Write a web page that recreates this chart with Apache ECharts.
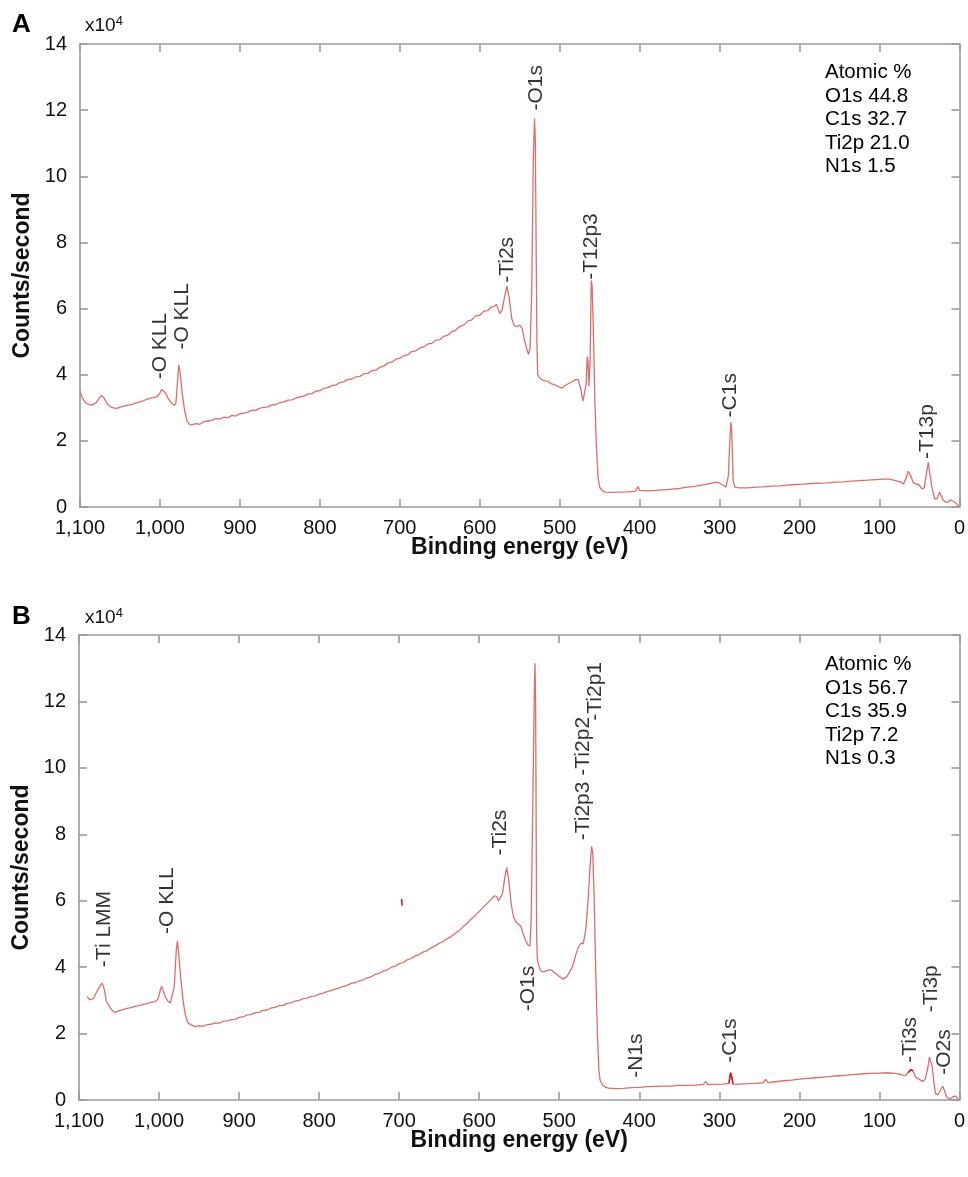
<!DOCTYPE html>
<html>
<head>
<meta charset="utf-8">
<script src="https://cdn.jsdelivr.net/npm/echarts@6/dist/echarts.min.js"></script>
<style>
html,body{margin:0;padding:0;background:#fff;}
#chart{width:968px;height:1177px;}
</style>
</head>
<body>
<div id="chart"></div>
<script>
// ---------- Panel A spectrum (binding energy eV, counts/second x10^4) ----------
const energyA = [1100,1097,1093,1089,1085,1080,1076,1073,1070,1066,1062,1058,1054,1050,1045,1040,1035,1030,1025,1020,1015,1010,1005,1001,998,996,993,990,986,982,980,978,976.5,975,972,969,966,963,960,
955,950,945,940,935,930,925,920,915,910,905,900,895,890,885,880,875,870,865,860,855,850,845,840,835,830,825,820,815,810,805,800,795,790,785,780,775,770,765,760,755,750,745,740,735,730,725,720,715,710,705,700,695,690,685,680,675,670,665,660,655,650,645,640,635,630,625,620,615,610,605,600,595,590,585,582,579,
575,572,569,566,563,560,557,554,550,547,544,541,539,537,535,533,531.5,530.5,529.5,528.5,527.5,525,520,515,510,505,500,497,494,490,485,480,477,474,471,469,467,465.5,464.5,463.5,462,460.5,459.5,458,456,454,452,450,447,443,435,425,415,405,402,400,390,380,370,360,350,340,330,320,310,304,300,295,292,289,287,286,285,284,283,281,275,265,255,245,235,225,215,205,195,185,175,165,155,145,135,125,115,105,95,88,80,74,70,67,64,61,58,55,51,47,44,41,39,37,34,31,28,25,23,20,17,14,11,9,6,3,1];
const countsA = [3.50,3.30,3.15,3.10,3.08,3.15,3.30,3.37,3.30,3.12,3.03,3.00,2.98,3.02,3.05,3.08,3.10,3.15,3.18,3.22,3.27,3.30,3.33,3.40,3.55,3.58,3.45,3.30,3.15,3.07,3.15,3.80,4.30,4.10,3.40,2.90,2.60,2.50,2.48,
2.52,2.50,2.58,2.60,2.62,2.68,2.66,2.72,2.70,2.77,2.75,2.82,2.84,2.87,2.93,2.92,2.99,3.01,3.03,3.09,3.10,3.16,3.17,3.23,3.24,3.29,3.33,3.35,3.42,3.43,3.50,3.52,3.59,3.61,3.67,3.69,3.76,3.79,3.86,3.87,3.94,3.95,4.03,4.04,4.12,4.14,4.22,4.26,4.35,4.38,4.47,4.50,4.58,4.60,4.70,4.72,4.81,4.84,4.93,4.95,5.04,5.06,5.16,5.20,5.30,5.35,5.46,5.50,5.62,5.66,5.78,5.80,5.92,5.94,6.05,6.06,6.12,
5.85,5.95,6.35,6.68,6.30,5.70,5.50,5.45,5.50,5.40,5.05,4.75,4.62,4.80,6.50,10.50,11.75,11.10,8.00,5.00,4.00,3.90,3.82,3.80,3.72,3.68,3.62,3.60,3.66,3.72,3.78,3.85,3.85,3.60,3.20,3.20,3.70,4.55,4.40,3.65,4.40,6.85,6.70,5.50,3.20,1.80,0.90,0.60,0.50,0.45,0.44,0.45,0.46,0.48,0.62,0.50,0.49,0.50,0.52,0.54,0.56,0.60,0.63,0.67,0.72,0.75,0.72,0.65,0.60,0.95,2.10,2.56,2.40,1.60,0.80,0.60,0.58,0.58,0.60,0.61,0.63,0.64,0.66,0.68,0.69,0.71,0.72,0.73,0.75,0.76,0.78,0.80,0.81,0.83,0.84,0.84,0.80,0.76,0.70,0.85,1.08,0.95,0.75,0.70,0.68,0.55,0.58,1.05,1.35,1.00,0.55,0.25,0.25,0.45,0.40,0.20,0.15,0.15,0.22,0.24,0.15,0.08,0.03];

// ---------- Panel B spectrum ----------
const energyB = [1090,1087,1085,1082,1078,1074,1071,1069.5,1068,1066,1064,1061,1058,1055,1050,1045,1040,1035,1030,1025,1020,1015,1010,1005,1001,998,996.5,995,992,989,986,984,981,978.5,977,976,973,970,967,964,960,955,
950,945,940,935,930,925,920,915,910,905,900,895,890,885,880,875,870,865,860,855,850,845,840,835,830,825,820,815,810,805,800,795,790,785,780,775,770,765,760,755,750,745,740,735,730,725,720,715,710,705,700,695,690,685,680,675,670,665,660,655,650,645,640,635,630,625,620,615,610,605,600,595,590,585,581,578,
576,574,571,568,565.5,563,560,557,554,551,548,545,542,539,536.5,535,533,531,530.3,529.5,528.8,528.2,527.5,525,523,519,515,511,508,504,500,495,491,487,483,479,476,473,470,467,464,461,459.5,458,456.5,455,453.5,452,450.5,449,446,442,438,430,420,410,400,390,380,370,360,350,340,330,320,317,314,305,295,288,286,284.5,283,278,265,255,245,242,239,230,220,210,200,190,180,170,160,150,140,130,120,110,100,90,80,72,68,65,61,58,55,50,46,43,40,37.5,36,34,32,30,27,24,21,19,16,13,11,8,5,3,1];
const countsB = [3.12,3.02,2.97,3.05,3.25,3.42,3.52,3.55,3.30,2.98,2.92,2.78,2.68,2.64,2.68,2.72,2.76,2.78,2.82,2.84,2.88,2.90,2.94,2.96,3.05,3.35,3.42,3.30,3.10,2.98,2.92,2.98,3.40,4.50,4.79,4.55,3.70,3.00,2.55,2.33,2.26,2.21,
2.23,2.22,2.27,2.28,2.32,2.31,2.37,2.38,2.42,2.43,2.49,2.50,2.56,2.57,2.63,2.64,2.70,2.71,2.77,2.79,2.84,2.85,2.91,2.93,2.98,3.00,3.05,3.07,3.12,3.13,3.19,3.22,3.26,3.29,3.34,3.37,3.42,3.45,3.51,3.53,3.59,3.62,3.68,3.71,3.78,3.81,3.88,3.92,3.99,4.03,4.10,4.14,4.22,4.26,4.34,4.38,4.46,4.50,4.58,4.64,4.72,4.77,4.86,4.92,5.02,5.10,5.22,5.32,5.45,5.55,5.68,5.80,5.92,6.04,6.15,6.12,
6.00,5.97,6.20,6.70,7.00,6.60,5.90,5.50,5.36,5.30,5.24,5.00,4.80,4.66,4.64,5.50,9.00,12.50,13.15,12.00,8.00,4.90,4.24,4.00,3.88,3.86,3.90,3.92,3.88,3.80,3.72,3.64,3.70,3.85,4.05,4.40,4.60,4.72,4.70,5.10,6.00,7.20,7.64,7.40,6.20,4.50,3.00,1.80,0.90,0.60,0.45,0.38,0.36,0.34,0.35,0.37,0.38,0.40,0.41,0.42,0.42,0.44,0.44,0.45,0.47,0.55,0.46,0.47,0.48,0.50,0.82,0.70,0.48,0.47,0.49,0.50,0.52,0.62,0.52,0.55,0.58,0.60,0.63,0.65,0.67,0.69,0.71,0.73,0.75,0.77,0.79,0.80,0.81,0.82,0.80,0.76,0.73,0.80,0.91,0.88,0.70,0.62,0.56,0.62,0.90,1.30,1.36,1.00,0.55,0.20,0.15,0.28,0.42,0.30,0.10,0.02,0.05,0.10,0.12,0.06,0.02];

// darker highlighted bits in panel B
const hiEnergyB1 = [288,286,284.5,283];
const hiCountsB1 = [0.50,0.82,0.70,0.48];
const hiEnergyB2 = [64,61,58];
const hiCountsB2 = [0.82,0.91,0.88];
const strayEnergyB = [697,696.3];
const strayCountsB = [6.05,5.85];

// ---------- Peak annotations (text, energy, counts at label foot) ----------
const peakNamesA = ['-O KLL','-O KLL','-Ti2s','-O1s','-T12p3','-C1s','-T13p'];
const peakEA = [1000,972,566,530,460,287,40];
const peakCA = [3.86,4.76,6.78,11.99,6.87,2.71,1.45];

const peakNamesB = ['-Ti LMM','-O KLL','-Ti2s','-O1s','-Ti2p3 -Ti2p2','-Ti2p1','-N1s','-C1s','-Ti3s','-Ti3p','-O2s'];
const peakEB = [1069,990,574,539,470,455,404,286,61,35,19];
const peakCB = [4.0,5.0,7.36,2.67,7.82,11.42,0.67,1.12,1.12,2.64,0.76];

// ---------- Atomic % ----------
const atomicNames = ['O1s','C1s','Ti2p','N1s'];
const atomicA = ['44.8','32.7','21.0','1.5'];
const atomicB = ['56.7','35.9','7.2','0.3'];

// ---------- Axis ticks ----------
const xMin = 0, xMax = 1100, xStep = 100;
const yMin = 0, yMax = 14, yStep = 2;
const xTitle = 'Binding energy (eV)';
const yTitle = 'Counts/second';

const FONT = "'Liberation Sans', Arial, Helvetica, sans-serif";
const LINE = '#e06c6c';
const AXIS = '#9a9a9a';

function pairs(xs, ys){ return xs.map((x,i)=>[x, ys[i]]); }
function labelPts(names, es, cs){ return names.map((n,i)=>({value:[es[i], cs[i]], name:n})); }

const grids = [
  {left:80, top:44, width:882, height:463},
  {left:79, top:635, width:883, height:465}
];

function mainX(gi){
  return {
    type:'value', gridIndex:gi, inverse:true, min:xMin, max:xMax, interval:xStep,
    position:'bottom',
    axisLine:{show:true, onZero:false, lineStyle:{color:AXIS, width:1.6}},
    axisTick:{show:true, inside:true, length:8, lineStyle:{color:AXIS, width:1.6}},
    axisLabel:{show:true, fontSize:20, fontFamily:FONT, color:'#111', margin:11,
      showMinLabel:true, showMaxLabel:true,
      formatter:(v)=>Number(v).toLocaleString('en-US')},
    splitLine:{show:false},
    name:xTitle, nameLocation:'middle', nameGap:29, nameMoveOverlap:false,
    nameTextStyle:{fontSize:23, fontWeight:'bold', fontFamily:FONT, color:'#111'}
  };
}
function topX(gi){
  return {
    type:'value', gridIndex:gi, inverse:true, min:xMin, max:xMax, interval:xStep,
    position:'top',
    axisLine:{show:true, onZero:false, lineStyle:{color:AXIS, width:1.6}},
    axisTick:{show:true, inside:true, length:8, lineStyle:{color:AXIS, width:1.6}},
    axisLabel:{show:false}, splitLine:{show:false}
  };
}
function mainY(gi){
  return {
    type:'value', gridIndex:gi, min:yMin, max:yMax, interval:yStep, position:'left',
    axisLine:{show:true, onZero:false, lineStyle:{color:AXIS, width:1.6}},
    axisTick:{show:true, inside:true, length:8, lineStyle:{color:AXIS, width:1.6}},
    axisLabel:{show:true, fontSize:20, fontFamily:FONT, color:'#111', margin:13},
    splitLine:{show:false},
    name:yTitle, nameLocation:'middle', nameGap:46, nameMoveOverlap:false,
    nameTextStyle:{fontSize:23, fontWeight:'bold', fontFamily:FONT, color:'#111'}
  };
}
function rightY(gi){
  return {
    type:'value', gridIndex:gi, min:yMin, max:yMax, interval:yStep, position:'right',
    axisLine:{show:true, onZero:false, lineStyle:{color:AXIS, width:1.6}},
    axisTick:{show:true, inside:true, length:8, lineStyle:{color:AXIS, width:1.6}},
    axisLabel:{show:false}, splitLine:{show:false}
  };
}

function lineSeries(xi, yi, data, color, width){
  return {type:'line', xAxisIndex:xi, yAxisIndex:yi, data:data, showSymbol:false, symbol:'none',
    lineStyle:{color:color, width:width}, smooth:false, silent:true, z:3};
}
function labelSeries(xi, yi, data){
  return {type:'scatter', xAxisIndex:xi, yAxisIndex:yi, data:data, symbolSize:1,
    itemStyle:{color:'rgba(0,0,0,0)'}, silent:true, z:5,
    label:{show:true, position:'inside', rotate:90, align:'left', verticalAlign:'middle',
      formatter:(p)=>p.name, fontSize:21, fontFamily:FONT, color:'#000'}};
}

const option = {
  animation:false,
  backgroundColor:'#fff',
  grid:grids,
  xAxis:[mainX(0), topX(0), mainX(1), topX(1)],
  yAxis:[mainY(0), rightY(0), mainY(1), rightY(1)],
  series:[
    lineSeries(0,0,pairs(energyA,countsA),LINE,1.3),
    labelSeries(0,0,labelPts(peakNamesA,peakEA,peakCA)),
    lineSeries(2,2,pairs(energyB,countsB),LINE,1.3),
    lineSeries(2,2,pairs(hiEnergyB1,hiCountsB1),'#c81818',1.5),
    lineSeries(2,2,pairs(hiEnergyB2,hiCountsB2),'#c81818',1.5),
    lineSeries(2,2,pairs(strayEnergyB,strayCountsB),'#c81818',1.5),
    labelSeries(2,2,labelPts(peakNamesB,peakEB,peakCB))
  ],
  graphic:[
    {type:'text', left:12, top:12, style:{text:'A', fontSize:26, fontWeight:'bold', fontFamily:FONT, fill:'#000'}},
    {type:'text', left:12, top:604, style:{text:'B', fontSize:26, fontWeight:'bold', fontFamily:FONT, fill:'#000'}},
    {type:'text', left:85, top:15, style:{rich:{b:{fontSize:19, fontFamily:FONT, fill:'#111'}, s:{fontSize:13, fontFamily:FONT, fill:'#111', verticalAlign:'top', padding:[0,0,8,0]}}, text:'{b|x10}{s|4}'}},
    {type:'text', left:85, top:607, style:{rich:{b:{fontSize:19, fontFamily:FONT, fill:'#111'}, s:{fontSize:13, fontFamily:FONT, fill:'#111', verticalAlign:'top', padding:[0,0,8,0]}}, text:'{b|x10}{s|4}'}},
    {type:'text', left:825, top:61, style:{text:['Atomic %'].concat(atomicNames.map((n,i)=>n+' '+atomicA[i])).join('\n'), fontSize:20.5, lineHeight:23.5, fontFamily:FONT, fill:'#000'}},
    {type:'text', left:825, top:653, style:{text:['Atomic %'].concat(atomicNames.map((n,i)=>n+' '+atomicB[i])).join('\n'), fontSize:20.5, lineHeight:23.5, fontFamily:FONT, fill:'#000'}}
  ]
};

const chart = echarts.init(document.getElementById('chart'), null, {renderer:'canvas'});
chart.setOption(option);
</script>
</body>
</html>
